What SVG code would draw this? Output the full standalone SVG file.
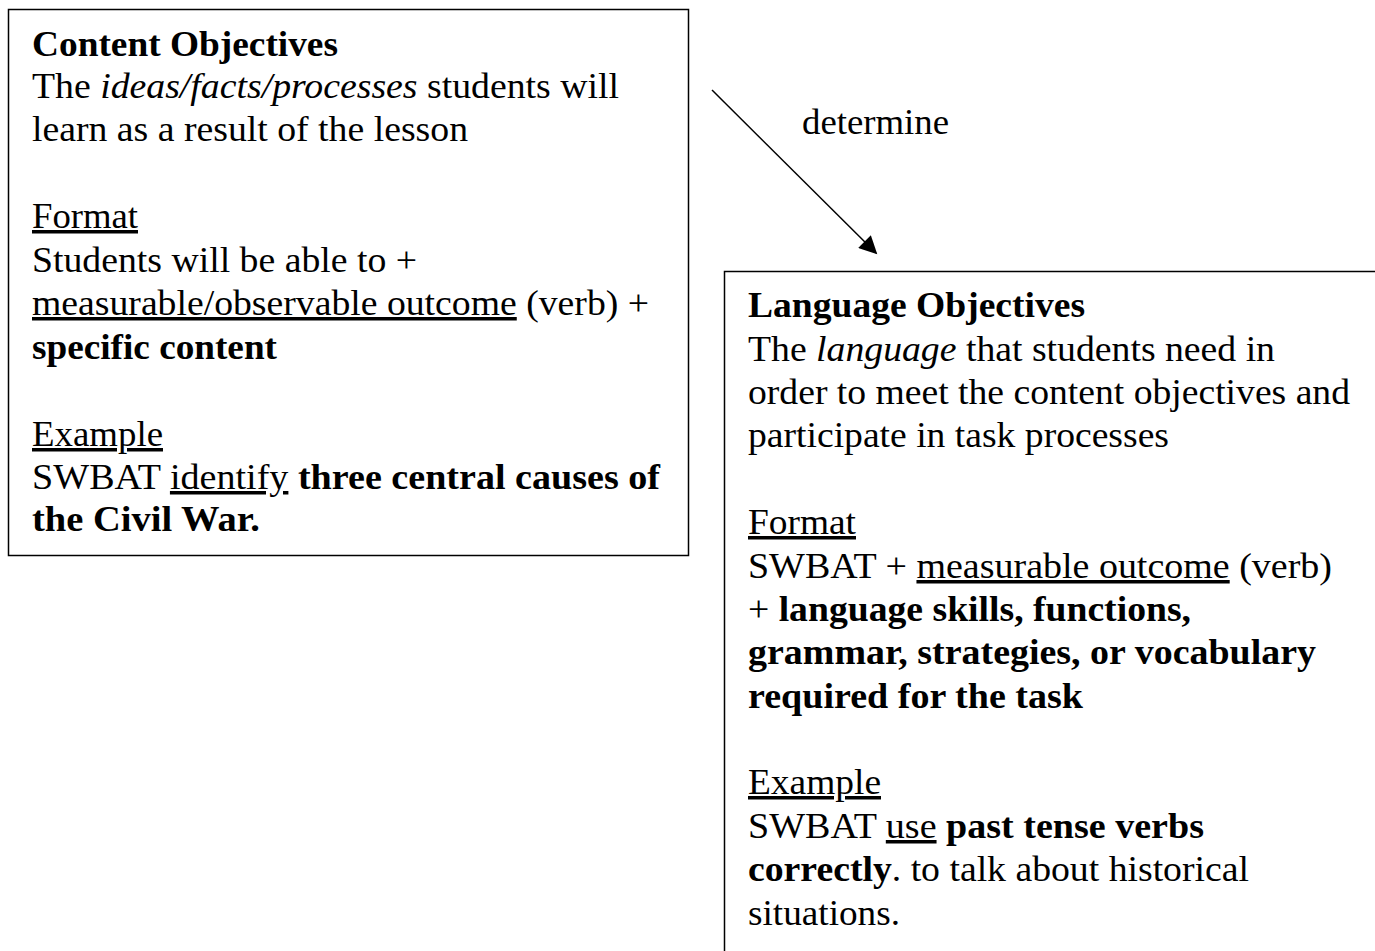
<svg xmlns="http://www.w3.org/2000/svg" width="1375" height="951" viewBox="0 0 1375 951">
  <style>
    text { font-family: "Liberation Serif", "Times New Roman", serif; font-size: 35px; fill: #000; }
    .b { font-weight: bold; }
    .i { font-style: italic; }
    .u { text-decoration: underline; }
    .box { fill: #fff; stroke: #000; stroke-width: 1.5; }
    .conn { stroke: #000; stroke-width: 1.5; fill: none; }
  </style>
  <defs>
    <marker id="arrow" viewBox="0 0 10 10" refX="9" refY="5" markerWidth="24" markerHeight="18" markerUnits="userSpaceOnUse" orient="auto">
      <path d="M0,0 L10,5 L0,10 z" fill="#000"/>
    </marker>
  </defs>
  <rect width="1375" height="951" fill="#fff"/>

  <g id="content-objectives">
    <rect class="box" x="8.5" y="9.5" width="680" height="546"/>
    <text x="32" y="56" class="b" textLength="306" lengthAdjust="spacingAndGlyphs">Content Objectives</text>
    <text x="32" y="98" textLength="587" lengthAdjust="spacingAndGlyphs">The <tspan class="i">ideas/facts/processes</tspan> students will</text>
    <text x="32" y="141" textLength="436" lengthAdjust="spacingAndGlyphs">learn as a result of the lesson</text>
    <text x="32" y="228" class="u" textLength="106" lengthAdjust="spacingAndGlyphs">Format</text>
    <text x="32" y="272" textLength="385" lengthAdjust="spacingAndGlyphs">Students will be able to +</text>
    <text x="32" y="315" textLength="617" lengthAdjust="spacingAndGlyphs"><tspan class="u">measurable/observable outcome</tspan> (verb) +</text>
    <text x="32" y="359" class="b" textLength="245" lengthAdjust="spacingAndGlyphs">specific content</text>
    <text x="32" y="446" class="u" textLength="131" lengthAdjust="spacingAndGlyphs">Example</text>
    <text x="32" y="489" textLength="628" lengthAdjust="spacingAndGlyphs">SWBAT <tspan class="u">identify</tspan> <tspan class="b">three central causes of</tspan></text>
    <text x="32" y="531" class="b" textLength="228" lengthAdjust="spacingAndGlyphs">the Civil War.</text>
  </g>

  <g id="language-objectives">
    <rect class="box" x="724.5" y="271.5" width="660" height="700"/>
    <text x="748" y="317" class="b" textLength="337" lengthAdjust="spacingAndGlyphs">Language Objectives</text>
    <text x="748" y="361" textLength="527" lengthAdjust="spacingAndGlyphs">The <tspan class="i">language</tspan> that students need in</text>
    <text x="748" y="404" textLength="602" lengthAdjust="spacingAndGlyphs">order to meet the content objectives and</text>
    <text x="748" y="447" textLength="421" lengthAdjust="spacingAndGlyphs">participate in task processes</text>
    <text x="748" y="534" class="u" textLength="108" lengthAdjust="spacingAndGlyphs">Format</text>
    <text x="748" y="578" textLength="584" lengthAdjust="spacingAndGlyphs">SWBAT + <tspan class="u">measurable outcome</tspan> (verb)</text>
    <text x="748" y="621" textLength="443" lengthAdjust="spacingAndGlyphs">+ <tspan class="b">language skills, functions,</tspan></text>
    <text x="748" y="664" class="b" textLength="568" lengthAdjust="spacingAndGlyphs">grammar, strategies, or vocabulary</text>
    <text x="748" y="708" class="b" textLength="335" lengthAdjust="spacingAndGlyphs">required for the task</text>
    <text x="748" y="794" class="u" textLength="133" lengthAdjust="spacingAndGlyphs">Example</text>
    <text x="748" y="838" textLength="456" lengthAdjust="spacingAndGlyphs">SWBAT <tspan class="u">use</tspan> <tspan class="b">past tense verbs</tspan></text>
    <text x="748" y="881" textLength="501" lengthAdjust="spacingAndGlyphs"><tspan class="b">correctly</tspan>. to talk about historical</text>
    <text x="748" y="925" textLength="152" lengthAdjust="spacingAndGlyphs">situations.</text>
  </g>

  <g id="connectors">
    <line class="conn" x1="712" y1="90" x2="876" y2="253" marker-end="url(#arrow)"/>
    <text x="802" y="134" textLength="147" lengthAdjust="spacingAndGlyphs">determine</text>
  </g>
</svg>
